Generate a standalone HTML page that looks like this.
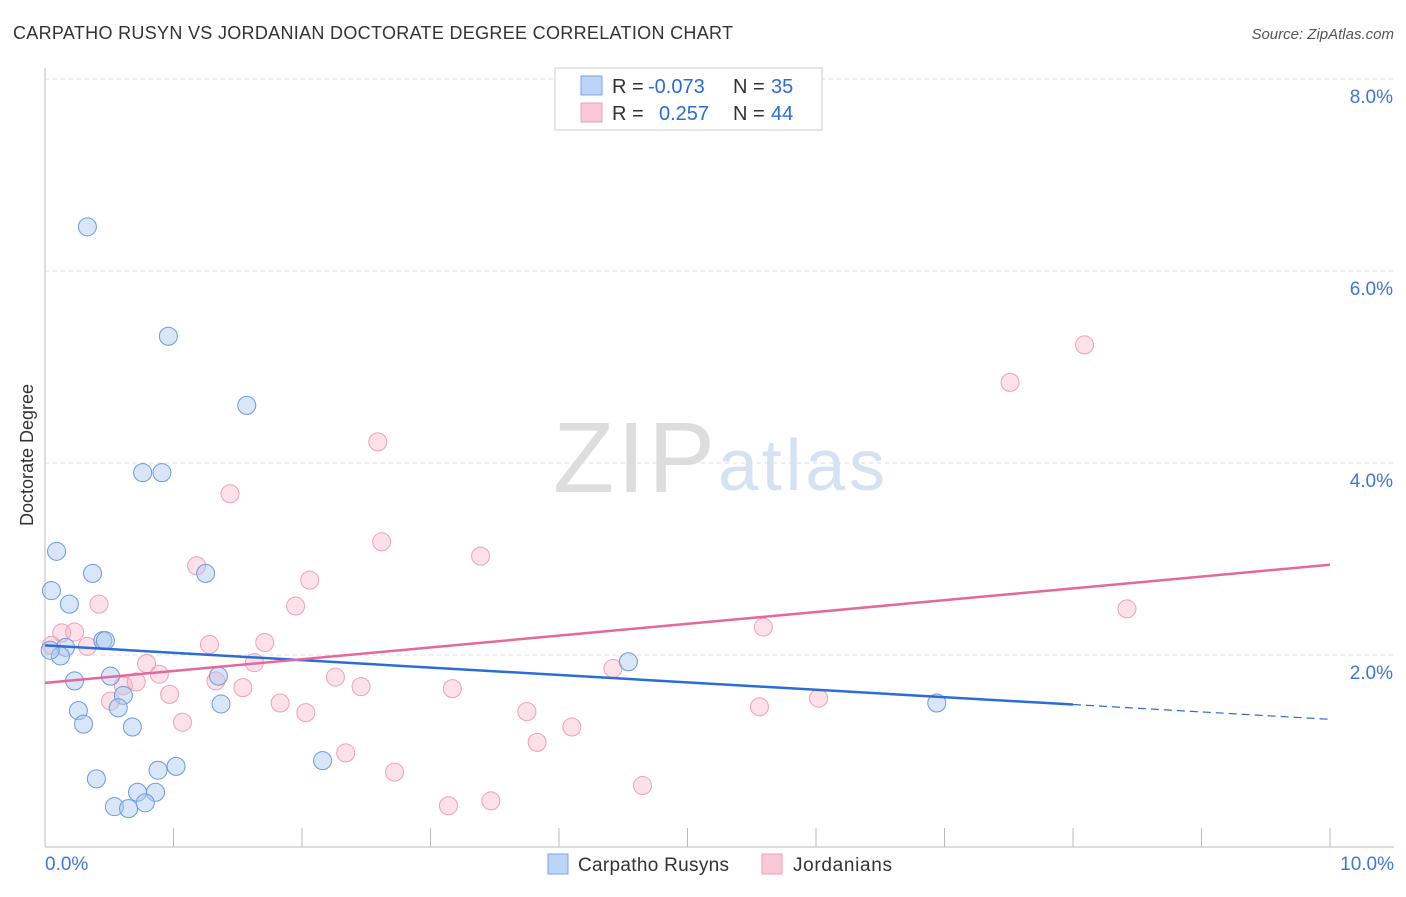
<!DOCTYPE html>
<html><head><meta charset="utf-8"><style>
body{margin:0;background:#fff;font-family:"Liberation Sans",sans-serif}
svg text{font-family:"Liberation Sans",sans-serif}
</style></head><body>
<svg id="c" width="1406" height="892">
<text x="13" y="39" font-size="18" fill="#333" textLength="720">CARPATHO RUSYN VS JORDANIAN DOCTORATE DEGREE CORRELATION CHART</text>
<text x="1394" y="39" font-size="15" fill="#555" font-style="italic" text-anchor="end">Source: ZipAtlas.com</text>
<text x="553" y="492" font-size="100" fill="#ddd" font-family="Liberation Serif" textLength="162">ZIP</text>
<text x="718" y="490" font-size="72" fill="#d4e2f4" textLength="167">atlas</text>
<text transform="translate(33,455) rotate(-90)" font-size="18" fill="#333" text-anchor="middle">Doctorate Degree</text>
<g id="grid"></g><g id="pts"></g><g id="lines"></g>
<g>
<rect x="555" y="68" width="267" height="62" fill="#fff" stroke="#ccc"/>
<rect x="581" y="76" width="21" height="19" fill="#bcd4f5" stroke="#7aa6e6"/>
<rect x="581" y="103" width="21" height="19" fill="#fbc8d6" stroke="#eea0b6"/>
<text x="612" y="93" font-size="20" fill="#333">R = <tspan x="648" fill="#2a6dd9">-0.073</tspan><tspan x="733">N = </tspan><tspan x="771" fill="#2a6dd9">35</tspan></text>
<text x="612" y="120" font-size="20" fill="#333">R = <tspan x="659" fill="#2a6dd9">0.257</tspan><tspan x="733">N = </tspan><tspan x="771" fill="#2a6dd9">44</tspan></text>
</g>
<g>
<rect x="548" y="854" width="20" height="20" fill="#bcd4f5" stroke="#7aa6e6"/>
<text x="578" y="871" font-size="19" fill="#333" textLength="151">Carpatho Rusyns</text>
<rect x="762" y="854" width="20" height="20" fill="#fbc8d6" stroke="#eea0b6"/>
<text x="793" y="871" font-size="19" fill="#333" textLength="99">Jordanians</text>
</g>
</svg>
<script>
const xTicks=[0,1,2,3,4,5,6,7,8,9,10];
const yTicks=[2,4,6,8];
const blueX=[0.33,0.96,1.57,0.76,0.91,0.09,0.05,0.37,1.25,0.19,0.45,0.47,0.16,0.12,0.51,1.35,0.23,0.61,0.57,1.37,0.26,0.30,0.68,4.54,6.94,2.16,0.40,1.02,0.88,0.72,0.86,0.54,0.65,0.78,0.04];
const blueY=[6.46,5.32,4.60,3.90,3.90,3.08,2.67,2.85,2.85,2.53,2.15,2.15,2.08,1.99,1.78,1.78,1.73,1.58,1.45,1.49,1.42,1.28,1.25,1.93,1.50,0.90,0.71,0.84,0.80,0.57,0.57,0.42,0.40,0.46,2.05];
const pinkX=[8.09,7.51,2.59,1.44,2.62,3.39,1.18,2.06,0.42,1.95,8.42,5.59,0.13,0.23,0.33,1.28,1.71,0.05,0.79,1.63,0.89,4.42,0.61,0.71,1.33,1.54,2.26,2.46,3.17,0.97,0.51,1.83,6.02,5.56,2.03,3.75,1.07,4.10,3.83,2.34,2.72,4.65,3.47,3.14];
const pinkY=[5.23,4.84,4.22,3.68,3.18,3.03,2.93,2.78,2.53,2.51,2.48,2.29,2.23,2.24,2.09,2.11,2.13,2.10,1.91,1.92,1.80,1.86,1.68,1.72,1.73,1.66,1.77,1.67,1.65,1.59,1.52,1.50,1.55,1.46,1.40,1.41,1.30,1.25,1.09,0.98,0.78,0.64,0.48,0.43];
const blueTrend=[2.10,1.33];
const pinkTrend=[1.71,2.94];
const NS='http://www.w3.org/2000/svg';
const sx=v=>45+v*128.5, sy=v=>847-v*96;
function mk(t,a,p){const e=document.createElementNS(NS,t);for(const k in a)e.setAttribute(k,a[k]);p.appendChild(e);return e;}
const grid=document.getElementById('grid'),pts=document.getElementById('pts'),lines=document.getElementById('lines');
let ax=mk('line',{x1:45,y1:68,x2:45,y2:847,stroke:'#bbb'},grid);


let bx=mk('line',{x1:45,y1:847,x2:1394,y2:847,stroke:'#bbb'},grid);


yTicks.forEach(v=>{
 let g=mk('line',{x1:45,y1:sy(v),x2:1394,y2:sy(v),stroke:'#ddd','stroke-dasharray':'4,4'},grid);
 
 
 let t=mk('text',{x:1393,y:sy(v)+24,'font-size':19,fill:'#3d78d8','text-anchor':'end'},grid);t.textContent=v.toFixed(1)+'%';
 
 
});
xTicks.forEach(v=>{
 let l=mk('line',{x1:sx(v),y1:828,x2:sx(v),y2:847,stroke:'#bbb'},grid);
 
 
});
[[0,'start',45],[10,'end',1394]].forEach(([v,a,x])=>{
 let t=mk('text',{x:x,y:870,'font-size':19,fill:'#3d78d8','text-anchor':a},grid);t.textContent=v.toFixed(1)+'%';
 
 
});
pinkX.forEach((x,i)=>{
 let c=mk('circle',{cx:sx(x),cy:sy(pinkY[i]),r:9,fill:'rgba(248,180,200,0.4)',stroke:'#eea0b6','stroke-width':1},pts);
 
 
});
blueX.forEach((x,i)=>{
 let c=mk('circle',{cx:sx(x),cy:sy(blueY[i]),r:9,fill:'rgba(170,200,240,0.45)',stroke:'#6a9ae0','stroke-width':1},pts);
 
 
});
const bAt=x=>blueTrend[0]+(blueTrend[1]-blueTrend[0])*x/10;
let b1=mk('line',{x1:sx(0),y1:sy(bAt(0)),x2:sx(8),y2:sy(bAt(8)),stroke:'#2a6dd9','stroke-width':2.5},lines);


let b2=mk('line',{x1:sx(8),y1:sy(bAt(8)),x2:sx(10),y2:sy(bAt(10)),stroke:'#2a6dd9','stroke-width':1.2,'stroke-dasharray':'8,5'},lines);


let p1=mk('line',{x1:sx(0),y1:sy(pinkTrend[0]),x2:sx(10),y2:sy(pinkTrend[1]),stroke:'#e5689a','stroke-width':2.5},lines);


</script>
</body></html>
